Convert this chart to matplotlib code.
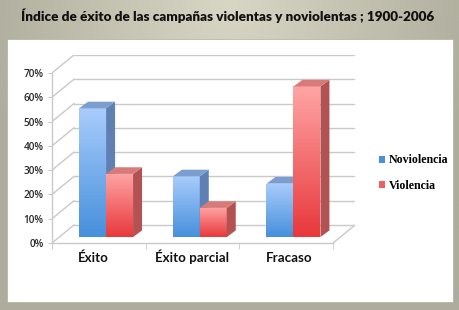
import numpy as np
import matplotlib
matplotlib.use("Agg")
from matplotlib import pyplot as plt
from matplotlib.patches import Rectangle, Polygon, Patch
from matplotlib.colors import LinearSegmentedColormap

# datos (porcentaje)
categorias = ["Éxito", "Éxito parcial", "Fracaso"]
series = ["Noviolencia", "Violencia"]
noviolencia = [53, 25, 22]
violencia = [26, 12, 62]
yticks = [0, 10, 20, 30, 40, 50, 60, 70]
titulo = "Índice de éxito de las campañas violentas y noviolentas ; 1900-2006"

W, H = 460, 310
fig = plt.figure(figsize=(W / 100, H / 100), dpi=100)

# fondo gris con degradado
bg = fig.add_axes([0, 0, 1, 1])
bg.set_axis_off()
gx = np.linspace(-1, 1, 200)
gy = np.linspace(0, 1, 120)
X, Y = np.meshgrid(gx, gy)
r = np.clip(np.sqrt((X * 0.9) ** 2 + (Y * 1.1) ** 2), 0, 1)
bg_cmap = LinearSegmentedColormap.from_list("bg", ["#d8d6c4", "#aeac9c"])
bg.imshow(r, cmap=bg_cmap, extent=[0, 1, 0, 1], aspect="auto", origin="upper")
bg.add_patch(Rectangle((7 / W, 1 - 302 / H), 446 / W, 263 / H, facecolor="white",
                       edgecolor="#b0ae9e", lw=0.5, transform=bg.transAxes))
bg.set_xlim(0, 1)
bg.set_ylim(0, 1)

fig.text(228 / W, 1 - 16 / H, titulo, ha="center", va="center", fontsize=9.7,
         fontweight="heavy", family="Lato", color="#111111")

# ejes: plano frontal de 52 a 334 px, fondo desplazado
dxd = 0.234      # profundidad de la caja (x)
dyd = 7.4        # profundidad de la caja (y)
ax = fig.add_axes([52 / W, 1 - 243 / H, 303 / W, 188 / H])
ax.set_xlim(-0.5, 2.5 + dxd)
ax.set_ylim(0, 70 + dyd)
for s in ax.spines.values():
    s.set_visible(False)
ax.patch.set_alpha(0)

grid_c = "#c9c9c9"
for v in yticks:
    ax.plot([-0.5 + dxd, 2.5 + dxd], [v + dyd, v + dyd], color=grid_c, lw=1, zorder=1)
    ax.plot([-0.5, -0.5 + dxd], [v, v + dyd], color=grid_c, lw=1, zorder=1)
ax.plot([-0.5, -0.5], [0, 70], color=grid_c, lw=1, zorder=1, clip_on=False)
ax.plot([-0.5, 2.5], [0, 0], color=grid_c, lw=1, zorder=1, clip_on=False)
ax.plot([2.5, 2.5 + dxd], [0, dyd], color=grid_c, lw=1, zorder=1)

ax.set_yticks(yticks)
ax.set_yticklabels([f"{v}%" for v in yticks])
ax.tick_params(axis="y", length=3, color=grid_c, pad=3, labelsize=7.2,
               labelcolor="#2a2a2a")
for t in ax.get_yticklabels():
    t.set_family("Open Sans")
    t.set_fontweight("semibold")

# etiquetas de categoría alineadas por la línea base
ax.set_xticks(range(len(categorias)))
ax.set_xticklabels([])
ax.tick_params(axis="x", which="major", length=0)
lab_tr = ax.get_xaxis_transform()
for i, c in enumerate(categorias):
    ax.text(i + 0.045 * (i - 1) - 0.01, -19 / 188, c, transform=lab_tr, ha="center",
            va="baseline", fontsize=9.6, fontweight="bold", family="Lato",
            color="#111111")
ax.set_xticks([-0.5, 0.5, 1.5, 2.5], minor=True)
ax.tick_params(axis="x", which="minor", length=4, color=grid_c)

# barras pseudo 3D
w = 0.288
f = 0.33
bdx, bdy = 0.41 * dxd, 0.37 * dyd
estilos = [
    dict(top="#a9ccfc", bot="#4690dc", side="#5f80b2", cap="#7c9dd0"),
    dict(top="#ffa4a4", bot="#e8383c", side="#b25252", cap="#d87a7a"),
]
valores = [noviolencia, violencia]
x = np.arange(len(categorias))
grad = np.linspace(1, 0, 100).reshape(-1, 1)
base = f * dyd
z = 3
for i in x:
    for j, vals in enumerate(valores):
        st = estilos[j]
        x0 = i - w + f * dxd + j * w
        v = vals[i]
        bar = ax.bar(x0, v, width=w, bottom=base, align="edge",
                     color=st["bot"], lw=0, zorder=z)[0]
        cm = LinearSegmentedColormap.from_list("g", [st["bot"], st["top"]])
        im = ax.imshow(grad, cmap=cm, extent=[x0, x0 + w, base, base + v],
                       aspect="auto", zorder=z + 0.1)
        im.set_clip_path(bar)
        x1 = x0 + w
        ax.add_patch(Polygon([(x1, base), (x1 + bdx, base + bdy),
                              (x1 + bdx, base + v + bdy), (x1, base + v)],
                             closed=True, facecolor=st["side"], lw=0, zorder=z + 0.2))
        ax.add_patch(Polygon([(x0, base + v), (x1, base + v),
                              (x1 + bdx, base + v + bdy), (x0 + bdx, base + v + bdy)],
                             closed=True, facecolor=st["cap"], lw=0, zorder=z + 0.2))
        z += 1
ax.set_xlim(-0.5, 2.5 + dxd)
ax.set_ylim(0, 70 + dyd)

handles = [Patch(facecolor=estilos[0]["bot"], edgecolor="none"),
           Patch(facecolor="#f06060", edgecolor="none")]
fig.legend(handles, series, loc="center left", bbox_to_anchor=(368 / W, 1 - 173 / H),
           frameon=False, handlelength=0.55, handleheight=0.55, handletextpad=0.3,
           labelspacing=1.1, prop=dict(family="Liberation Serif", weight="bold", size=8.6))

fig.savefig("out.png", dpi=100)
